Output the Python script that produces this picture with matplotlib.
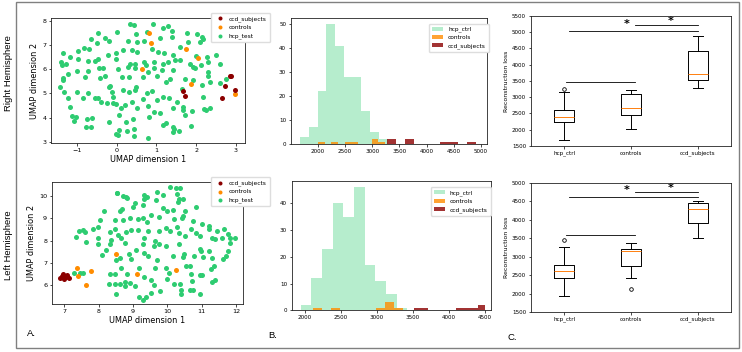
import numpy as np
import matplotlib
matplotlib.use("Agg")
from matplotlib import pyplot as plt
from matplotlib.patches import Rectangle

# ---- UMAP scatter, right hemisphere ----
rh_hcp_x = [0.35, 0.43, 0.91, 1.29, 0.0, -0.46, 0.49, 0.76, 1.18, 1.39, 1.78, 2.02, 2.14, 2.17, 2.1,
            -0.3, -0.18, -0.65, -0.48, 0.29, 0.51, 0.7, 1.08, 1.39, 0.89, 1.6, 1.8,
            -1.35, -0.83, -0.7, -0.97, -1.17, -0.22, -0.01, 0.16, 0.39, 0.51, 1.05, 1.2, 1.43, 2.0, 2.27, 2.5,
            -1.39, -1.37, -1.28, -0.96, -0.73, -0.54, -0.46, -0.01, 0.35, 0.46, 0.68, 0.94, 1.18, 1.29, 1.46,
            1.6, 1.84, 1.92, 2.12, 2.3, 2.59,
            -1.0, -0.73, -0.43, -0.33, 0.03, 0.29, 0.46, 0.74, 0.94, 1.14, 1.42, 1.96, 2.31,
            -1.21, -1.36, -1.34, -0.79, -0.42, -0.28, 0.13, 0.32, 0.66, 0.78, 1.01, 1.25, 1.35, 1.73, 1.92,
            2.29, 2.35, 2.75, 2.6,
            -1.42, -1.32, -1.21, -1.17, -1.13, -1.06, -1.0, -0.85, -0.73, -0.54, -0.46, -0.2, -0.16, -0.12,
            0.16, 0.3, 0.46, 0.49, 0.76, 0.89, 0.67, 1.01, 1.16, 1.33, 1.64, 1.67, 1.52, 1.9, 2.17, 2.21,
            2.26, 2.36, 2.14,
            -0.38, -0.24, -0.08, -0.1, -0.01, 0.11, 0.22, 0.38, 0.51, 0.8, 0.93, 1.1, 1.43, 1.67,
            -1.02, -0.75, -0.63, -0.77, -0.65, -0.18, 0.07, 0.23, 0.42, 0.82, 1.16, 1.25, 1.43, 1.71, 1.88,
            -0.01, 0.05, 0.03, 0.26, 0.45, 0.43, 0.79, 1.41, 1.45, 1.57]
rh_hcp_y = [7.85, 7.82, 7.86, 7.78, 7.52, 7.48, 7.44, 7.52, 7.68, 7.57, 7.48, 7.44, 7.34, 7.23, 7.1,
            7.3, 7.16, 7.23, 7.06, 7.14, 7.12, 7.16, 7.27, 7.34, 6.82, 6.92, 7.1,
            6.65, 6.88, 6.85, 6.74, 6.51, 6.6, 6.65, 6.79, 6.79, 6.72, 6.72, 6.65, 6.6, 6.54, 6.51, 6.58,
            6.3, 6.17, 6.23, 6.42, 6.33, 6.33, 6.4, 6.4, 6.23, 6.2, 6.3, 6.3, 6.23, 6.3, 6.37,
            6.37, 6.23, 6.1, 6.17, 6.28, 6.23,
            5.93, 5.92, 6.03, 6.05, 6.0, 6.1, 6.03, 6.17, 6.05, 5.96, 5.96, 6.03, 5.89,
            5.8, 5.64, 5.55, 5.66, 5.64, 5.71, 5.69, 5.69, 5.69, 5.9, 5.71, 5.48, 5.58, 5.58, 5.55,
            5.71, 5.48, 5.6, 5.44,
            5.27, 5.07, 4.79, 4.45, 4.06, 3.87, 5.07, 4.79, 5.0, 4.82, 4.79, 5.25, 5.3, 5.07,
            5.14, 5.07, 5.14, 5.27, 5.03, 5.11, 4.76, 4.72, 4.86, 4.79, 5.17, 4.45, 4.66, 4.28, 4.83, 4.34,
            4.31, 4.4, 5.34,
            4.65, 4.61, 4.83, 4.58, 4.54, 4.38, 4.51, 4.65, 4.38, 4.47, 4.24, 4.17, 4.38, 4.31,
            4.03, 3.96, 3.99, 3.59, 3.62, 3.83, 4.1, 3.83, 3.96, 4.03, 3.69, 3.76, 3.59, 4.1, 3.65,
            3.34, 3.48, 3.28, 3.44, 3.23, 3.51, 3.16, 3.4, 3.54, 3.45]
rh_ctrl_x = [0.82, 0.87, 1.75, 2.06, 0.64, 1.88, 2.98]
rh_ctrl_y = [7.5, 7.09, 6.81, 6.47, 6.0, 5.37, 4.96]
rh_ccd_x = [2.86, 2.89, 2.72, 2.97, 2.65, 1.67, 1.71]
rh_ccd_y = [5.71, 5.73, 5.31, 5.13, 4.79, 5.11, 4.9]

# ---- UMAP scatter, left hemisphere ----
lh_hcp_x = [10.08, 10.25, 10.38, 8.53, 8.53, 9.69, 8.7, 8.8, 8.82, 9.33, 9.4, 9.33, 9.66, 9.89, 10.28,
            10.35, 10.31, 10.46, 9.06, 9.29, 9.0, 8.62, 8.68, 8.16, 10.84, 9.89, 10.0, 10.16, 10.52, 10.42,
            10.45, 9.52, 9.77, 10.21, 8.9, 9.14, 9.28, 9.4, 8.7, 8.48, 8.04, 7.83, 7.44, 7.55, 7.6, 7.34,
            7.64, 7.99, 7.99, 7.97, 8.33, 8.36, 8.33, 8.48, 8.56, 8.8, 8.65, 8.77, 8.95, 9.14, 9.31, 9.45,
            9.65, 9.77, 9.96, 10.08, 10.28, 10.35, 10.52, 10.7, 10.75, 11.0, 10.84, 10.96, 11.23, 11.23,
            11.45, 11.66, 11.32, 11.4, 11.6, 11.82, 11.98, 11.77, 11.84, 11.77, 11.72, 11.62,
            8.22, 8.09, 8.62, 8.87, 8.94, 9.09, 9.28, 9.31, 9.45, 9.6, 9.77, 9.96, 10.16, 10.35, 10.5,
            10.45, 10.55, 10.67, 10.79, 10.96, 10.99, 11.03, 11.23, 11.3, 11.35, 11.27, 11.4, 11.32, 10.96,
            11.02, 10.7, 10.72, 10.65, 10.75, 10.96, 10.4, 10.4, 10.21, 10.37, 9.99, 9.79, 9.96, 10.04, 9.65,
            9.19, 9.33, 9.53, 9.6, 9.53, 9.37, 9.29, 9.19, 9.06, 8.9, 8.77, 8.77, 8.62, 8.48, 8.5, 8.31,
            8.33, 8.48, 8.65, 8.84, 8.51, 9.69, 7.55, 7.46, 7.28]
lh_hcp_y = [10.42, 10.37, 10.37, 10.15, 10.12, 10.19, 10.0, 9.96, 9.9, 10.03, 9.97, 9.85, 9.82, 10.04, 10.1,
            9.88, 9.73, 9.88, 9.67, 9.6, 9.51, 9.33, 9.4, 9.33, 9.51, 9.45, 9.33, 9.36, 9.33, 9.03,
            9.1, 9.13, 9.07, 8.95, 9.0, 8.95, 9.03, 8.85, 8.91, 8.91, 8.91, 8.5, 8.43, 8.46, 8.38, 8.16,
            7.95, 8.62, 8.13, 7.83, 8.38, 8.01, 7.83, 8.5, 8.25, 8.38, 8.13, 7.9, 8.46, 8.47, 8.13, 8.43,
            7.98, 8.43, 8.58, 8.43, 8.61, 8.35, 8.2, 8.5, 8.88, 8.76, 8.35, 8.2, 8.65, 8.53,
            8.43, 8.5, 8.13, 8.05, 8.13, 8.13, 8.13, 8.31, 7.9, 7.53, 7.3, 7.15,
            7.57, 7.35, 7.23, 7.41, 7.18, 7.57, 7.83, 7.45, 7.3, 7.75, 7.86, 7.75, 7.3, 7.83, 7.41,
            7.26, 6.85, 6.85, 7.3, 7.63, 7.53, 7.26, 7.53, 7.23, 6.85, 6.7, 6.21, 6.13, 6.43,
            6.43, 6.48, 6.18, 5.76, 5.76, 5.61, 5.76, 5.58, 6.03, 6.06, 6.25, 5.73, 6.78, 6.55, 6.78,
            6.78, 6.36, 6.22, 5.99, 5.63, 5.48, 5.31, 5.46, 5.96, 6.11, 6.13, 5.96, 6.07, 6.03, 5.61, 6.07,
            6.48, 6.48, 6.78, 6.48, 7.11, 7.11, 6.52, 6.52, 6.52]
lh_ctrl_x = [7.38, 7.4, 7.77, 7.63, 8.51, 9.11, 10.25]
lh_ctrl_y = [6.75, 6.4, 6.63, 6.0, 7.41, 6.48, 6.67]
lh_ccd_x = [6.87, 6.94, 7.0, 7.05, 7.12, 6.97, 7.07]
lh_ccd_y = [6.33, 6.4, 6.25, 6.36, 6.3, 6.48, 6.43]

# ---- histogram counts (10 bins each, range of each group) ----
rh_hist_hcp = [3, 7, 22, 50, 41, 28, 28, 14, 5, 2]
rh_range_hcp = (1675, 3285)
rh_hist_ctrl = [1, 0, 1, 0, 1, 1, 0, 0, 2, 1]
rh_range_ctrl = (2006, 3236)
rh_hist_ccd = [2, 0, 2, 0, 0, 0, 1, 1, 0, 1]
rh_range_ccd = (3280, 4900)

lh_hist_hcp = [2, 12, 23, 40, 35, 46, 17, 11, 6, 1]
lh_range_hcp = (1940, 3420)
lh_hist_ctrl = [1, 0, 1, 0, 0, 0, 0, 1, 3, 1]
lh_range_ctrl = (2107, 3357)
lh_hist_ccd = [1, 1, 0, 0, 0, 0, 1, 1, 1, 2]
lh_range_ccd = (3510, 4500)

# ---- boxplot summaries: whislo, q1, med, q3, whishi, fliers ----
groups = ['hcp_ctrl', 'controls', 'ccd_subjects']
rh_box = [(1690, 2230, 2390, 2620, 3170, [3260]),
          (2030, 2450, 2660, 3090, 3220, []),
          (3280, 3520, 3720, 4410, 4890, [])]
lh_box = [(1940, 2430, 2620, 2780, 3260, [3440]),
          (2430, 2750, 3155, 3200, 3380, [2110]),
          (3510, 3910, 4280, 4440, 4500, [])]
# significance bars: (x1, x2, y)
rh_sig = [(1.07, 3.0, 5020), (2.06, 3.0, 5210), (1.03, 2.06, 3460)]
lh_sig = [(1.07, 3.0, 4620), (2.06, 3.0, 4750), (1.03, 2.06, 3580)]
# stars: (x, y)
rh_stars = [(1.94, 5235), (2.59, 5345)]
lh_stars = [(1.94, 4800), (2.59, 4865)]

c_hcp = '#2ecc71'
c_ctrl = 'darkorange'
c_ccd = 'darkred'

plt.rcParams['font.size'] = 4
plt.rcParams['axes.linewidth'] = 0.6
plt.rcParams['axes.edgecolor'] = '#222222'
plt.rcParams['xtick.major.size'] = 1.8
plt.rcParams['ytick.major.size'] = 1.8
plt.rcParams['xtick.major.width'] = 0.5
plt.rcParams['ytick.major.width'] = 0.5
plt.rcParams['xtick.major.pad'] = 1.5
plt.rcParams['ytick.major.pad'] = 1.5

fig = plt.figure(figsize=(7.42, 3.52), dpi=100)

fig.patches.append(Rectangle((0.0216, 0.0114), 0.9744, 0.983, transform=fig.transFigure,
                             fill=False, edgecolor='#808080', linewidth=1))


def scatter_panel(rect, hx, hy, cx, cy, dx, dy, xlim, ylim, xt, yt, leg_anchor):
    ax = fig.add_axes(rect)
    h1 = ax.scatter(hx, hy, s=13, color=c_hcp, label='hcp_test', linewidths=0)
    h2 = ax.scatter(cx, cy, s=13, color=c_ctrl, label='controls', linewidths=0)
    h3 = ax.scatter(dx, dy, s=13, color=c_ccd, label='ccd_subjects', linewidths=0)
    ax.set_xlim(xlim)
    ax.set_ylim(ylim)
    ax.set_xticks(xt)
    ax.set_yticks(yt)
    ax.tick_params(labelsize=4.6)
    ax.set_xlabel('UMAP dimension 1', fontsize=5.9, labelpad=1.5)
    ax.set_ylabel('UMAP dimension 2', fontsize=5.9, labelpad=2)
    fig.legend([h3, h2, h1], ['ccd_subjects', 'controls', 'hcp_test'], loc='upper left',
               bbox_to_anchor=leg_anchor, fontsize=4.2, frameon=True, borderpad=0.5,
               labelspacing=0.55, handletextpad=0.6, markerscale=0.8, framealpha=1,
               edgecolor='#dddddd', fancybox=True)
    return ax


def hist_panel(rect, data, xlim, ylim, xt, yt, leg_anchor):
    ax = fig.add_axes(rect)
    for counts, rng, col, alpha, lab in data:
        edges = np.linspace(rng[0], rng[1], len(counts) + 1)
        ax.hist(edges[:-1], bins=edges, weights=counts, color=col, alpha=alpha, label=lab)
    ax.set_xlim(xlim)
    ax.set_ylim(ylim)
    ax.set_xticks(xt)
    ax.set_yticks(yt)
    ax.tick_params(labelsize=4.1)
    ax.legend(loc='upper left', bbox_to_anchor=leg_anchor, bbox_transform=fig.transFigure,
              fontsize=4.2, borderpad=0.5, labelspacing=0.5, handletextpad=0.8,
              framealpha=1, edgecolor='#dddddd')
    return ax


def box_panel(rect, stats, sig, stars, ylim, yt):
    ax = fig.add_axes(rect)
    bxp = []
    for name, (lo, q1, med, q3, hi, fl) in zip(groups, stats):
        bxp.append({'label': name, 'whislo': lo, 'q1': q1, 'med': med, 'q3': q3,
                    'whishi': hi, 'fliers': fl})
    ax.bxp(bxp, widths=0.3,
           boxprops=dict(linewidth=0.7),
           whiskerprops=dict(linewidth=0.7),
           capprops=dict(linewidth=0.7),
           medianprops=dict(linewidth=0.7, color='#ff7f0e'),
           flierprops=dict(marker='o', markersize=2.6, markeredgewidth=0.6,
                           markerfacecolor='none'))
    for x1, x2, y in sig:
        ax.plot([x1, x2], [y, y], color='black', linewidth=0.6)
    for x, y in stars:
        ax.text(x, y, '*', fontsize=8, fontweight='bold', ha='center', va='center')
    ax.set_xlim(0.5, 3.5)
    ax.set_ylim(ylim)
    ax.set_yticks(yt)
    ax.tick_params(labelsize=4.1)
    ax.set_ylabel('Reconstruction loss', fontsize=4.5, labelpad=2)
    return ax


# A: UMAP
scatter_panel([0.0687, 0.5938, 0.2615, 0.3551], rh_hcp_x, rh_hcp_y, rh_ctrl_x, rh_ctrl_y,
              rh_ccd_x, rh_ccd_y, (-1.65, 3.23), (2.95, 8.11), [-1, 0, 1, 2, 3],
              [3, 4, 5, 6, 7, 8], (0.2803, 0.9716))
scatter_panel([0.0697, 0.1364, 0.2578, 0.3466], lh_hcp_x, lh_hcp_y, lh_ctrl_x, lh_ctrl_y,
              lh_ccd_x, lh_ccd_y, (6.63, 12.21), (5.15, 10.63), [7, 8, 9, 10, 11, 12],
              [6, 7, 8, 9, 10], (0.2803, 0.505))

# B: histograms
hist_panel([0.3918, 0.5901, 0.2642, 0.358],
           [(rh_hist_hcp, rh_range_hcp, c_hcp, 0.35, 'hcp_ctrl'),
            (rh_hist_ctrl, rh_range_ctrl, c_ctrl, 0.8, 'controls'),
            (rh_hist_ccd, rh_range_ccd, c_ccd, 0.8, 'ccd_subjects')],
           (1505, 5104), (0, 52.5), np.arange(2000, 5001, 500), np.arange(0, 51, 10),
           (0.574, 0.941))
hist_panel([0.3931, 0.1185, 0.2682, 0.3673],
           [(lh_hist_hcp, lh_range_hcp, c_hcp, 0.35, 'hcp_ctrl'),
            (lh_hist_ctrl, lh_range_ctrl, c_ctrl, 0.8, 'controls'),
            (lh_hist_ccd, lh_range_ccd, c_ccd, 0.8, 'ccd_subjects')],
           (1815, 4579), (0, 48.3), np.arange(2000, 4501, 500), np.arange(0, 41, 10),
           (0.5764, 0.4764))

# C: boxplots
box_panel([0.7152, 0.5852, 0.27, 0.3702], rh_box, rh_sig, rh_stars, (1500, 5500),
          np.arange(1500, 5501, 500))
box_panel([0.7152, 0.1136, 0.27, 0.3673], lh_box, lh_sig, lh_stars, (1500, 5000),
          np.arange(1500, 5001, 500))

# row and panel labels
fig.text(0.0108, 1 - 73 / 352, 'Right Hemisphere', rotation=90, ha='center', va='center',
         fontsize=6.8, family='Liberation Sans')
fig.text(0.0108, 1 - 245 / 352, 'Left Hemisphere', rotation=90, ha='center', va='center',
         fontsize=6.8, family='Liberation Sans')
fig.text(27 / 742, 1 - 333 / 352, 'A.', fontsize=6.8, family='Liberation Sans', va='center')
fig.text(268 / 742, 1 - 336 / 352, 'B.', fontsize=6.8, family='Liberation Sans', va='center')
fig.text(507 / 742, 1 - 338 / 352, 'C.', fontsize=6.8, family='Liberation Sans', va='center')

fig.savefig('out.png', dpi=100)
